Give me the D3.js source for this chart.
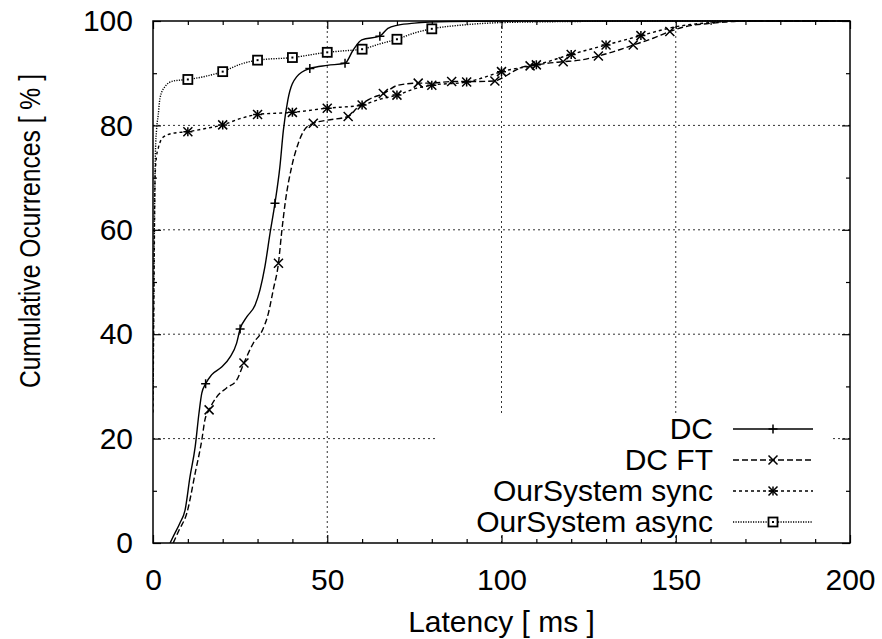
<!DOCTYPE html>
<html>
<head>
<meta charset="utf-8">
<script src="https://cdn.jsdelivr.net/npm/d3@7"></script>
<style>
  body { margin: 0; background: #fff; }
  svg text { font-family: "Liberation Sans", Helvetica, Arial, sans-serif; fill: #000; }
</style>
</head>
<body>
<div class="chart-container"></div>
<script>
// series: latency (ms) and cumulative %
const dcX = [4.9, 6.0, 7.7, 9.2, 10.6, 12.1, 13.2, 14.0, 15.1, 16.8, 19.7, 22.1, 24.0, 25.0, 26.9, 29.3, 30.7, 32.1, 33.6, 35.0, 36.4, 37.4, 38.7, 41.2, 45.0, 50, 55.1, 57.4, 59.9, 65.1, 67.4, 70.3, 75, 85, 100, 200];
const dcY = [0, 1.5, 3.8, 6.3, 12.6, 18.4, 24.9, 28.7, 30.5, 32.2, 33.7, 35.6, 38.3, 41.0, 43.3, 45.6, 48.5, 52.9, 59.4, 65.1, 72, 79, 84.9, 89.3, 90.9, 91.5, 91.9, 94.4, 96.4, 97.1, 98.6, 99.2, 99.6, 99.9, 100, 100];
const dcMarkX = [15.1, 25, 35, 45, 55.1, 65.1];
const dcMarkY = [30.5, 41, 65.1, 90.9, 91.9, 97.1];

const ftX = [5.8, 7.5, 9.7, 12.1, 14.0, 14.9, 16.1, 18.3, 21.1, 24.0, 26.1, 28.8, 31.2, 33.1, 34.5, 36.0, 36.9, 38.0, 39.8, 41.7, 43.5, 46.0, 50, 56.0, 58.5, 62, 66.1, 70.3, 76.1, 80, 85.7, 92, 98.1, 100, 103.3, 106.2, 108.2, 113, 117.7, 122.5, 127.8, 132, 137.8, 143.5, 148.3, 152, 160.7, 170, 200];
const ftY = [0, 2.5, 5.7, 13.4, 19.7, 23.6, 25.5, 28, 29.7, 31.2, 34.5, 38.3, 40.5, 44, 48.5, 53.6, 59.4, 65.5, 72.1, 76.6, 79.2, 80.4, 81, 81.7, 83.3, 85, 86.1, 87.7, 88.1, 88.1, 88.4, 88.4, 88.5, 89, 90.3, 91.2, 91.4, 91.9, 92.2, 92.5, 93.3, 94.1, 95.4, 96.7, 98, 98.8, 99.6, 100, 100];
const ftMarkX = [16.1, 26.1, 36, 46, 56, 66.1, 76.1, 85.7, 98.1, 108.2, 117.7, 127.8, 137.8, 148.3];
const ftMarkY = [25.5, 34.5, 53.6, 80.4, 81.7, 86.1, 88.1, 88.4, 88.5, 91.4, 92.2, 93.3, 95.4, 98];

const syncX = [0, 0.3, 0.6, 1.0, 1.5, 3.0, 5.8, 10, 15, 20, 25, 30, 40, 50, 60, 65, 70, 75, 80, 90, 95, 100, 110, 120, 130, 140, 150, 160, 170, 200];
const syncY = [25, 50, 70, 74, 75.6, 77.8, 78.5, 78.8, 79.4, 80.1, 81.3, 82.1, 82.5, 83.3, 83.9, 85, 85.8, 87, 87.7, 88.3, 89.2, 90.3, 91.6, 93.6, 95.4, 97.2, 98.9, 99.7, 100, 100];
const syncMarkX = [10, 20, 30, 40, 50, 60, 70, 80, 90, 100, 110, 120, 130, 140];
const syncMarkY = [78.8, 80.1, 82.1, 82.5, 83.3, 83.9, 85.8, 87.7, 88.3, 90.3, 91.6, 93.6, 95.4, 97.2];

const asyncX = [0, 0.3, 0.7, 1.0, 1.5, 2.0, 3.4, 5.8, 10, 15, 20, 25, 30, 40, 50, 55, 60, 65, 70, 75, 80, 90, 100, 120, 150, 200];
const asyncY = [28, 55, 75, 79, 82, 85.2, 87.4, 88.5, 88.8, 89.4, 90.3, 91.7, 92.5, 93, 94, 94.3, 94.6, 95.6, 96.5, 97.7, 98.5, 99.3, 99.7, 99.9, 100, 100];
const asyncMarkX = [10, 20, 30, 40, 50, 60, 70, 80];
const asyncMarkY = [88.8, 90.3, 92.5, 93, 94, 94.6, 96.5, 98.5];

const seriesNames = ["DC", "DC FT", "OurSystem sync", "OurSystem async"];
const xTicks = [0, 50, 100, 150, 200];
const yTicks = [0, 20, 40, 60, 80, 100];

// canvas
const w = 882;
const h = 639;
const padLeft = 153, padRight = 850, padTop = 21, padBottom = 543;

const svg = d3
  .select(".chart-container")
  .append("svg")
  .attr("width", w)
  .attr("height", h);

const xScale = d3.scaleLinear().domain([0, 200]).range([padLeft, padRight]);
const yScale = d3.scaleLinear().domain([0, 100]).range([padBottom, padTop]);

// grid
const grid = svg.append("g").attr("stroke", "#333").attr("stroke-width", 1).attr("stroke-dasharray", "2,3");
xTicks.slice(1, -1).forEach((v) => {
  grid.append("line")
    .attr("x1", xScale(v)).attr("x2", xScale(v))
    .attr("y1", padTop).attr("y2", padBottom);
});
yTicks.slice(1, -1).forEach((v) => {
  grid.append("line")
    .attr("x1", padLeft).attr("x2", padRight)
    .attr("y1", yScale(v)).attr("y2", yScale(v));
});

// opaque key box hides the grid behind it
svg.append("rect")
  .attr("x", 437).attr("y", 413)
  .attr("width", 396).attr("height", 123)
  .attr("fill", "#fff");

// axes: major ticks inward, minor every 10
const minorX = d3.range(0, 201, 10).filter((v) => v % 50 !== 0);
const minorY = d3.range(0, 101, 10).filter((v) => v % 20 !== 0);

function drawAxis(axis, tx, ty) {
  const g = svg.append("g").attr("transform", "translate(" + tx + "," + ty + ")").call(axis);
  g.select(".domain").remove();
  g.selectAll("line").attr("stroke", "#000").attr("stroke-width", 1.2);
  return g;
}

const xAxis = drawAxis(d3.axisBottom(xScale).tickValues(xTicks).tickSize(-8).tickPadding(26).tickFormat(d3.format("d")), 0, padBottom);
drawAxis(d3.axisBottom(xScale).tickValues(minorX).tickSize(-4).tickFormat(""), 0, padBottom);
drawAxis(d3.axisTop(xScale).tickValues(xTicks).tickSize(-8).tickFormat(""), 0, padTop);
drawAxis(d3.axisTop(xScale).tickValues(minorX).tickSize(-4).tickFormat(""), 0, padTop);

const yAxis = drawAxis(d3.axisLeft(yScale).tickValues(yTicks).tickSize(-8).tickPadding(20).tickFormat(d3.format("d")), padLeft, 0);
drawAxis(d3.axisLeft(yScale).tickValues(minorY).tickSize(-4).tickFormat(""), padLeft, 0);
drawAxis(d3.axisRight(yScale).tickValues(yTicks).tickSize(-8).tickFormat(""), padRight, 0);
drawAxis(d3.axisRight(yScale).tickValues(minorY).tickSize(-4).tickFormat(""), padRight, 0);

xAxis.attr("font-size", 30).attr("font-family", null);
yAxis.attr("font-size", 30).attr("font-family", null);

// line styles and markers
const styles = [
  { dash: null, marker: "plus" },
  { dash: "6,3", marker: "cross" },
  { dash: "3,3", marker: "star" },
  { dash: "1.2,1.3", marker: "box" },
];

function marker(g, type, cx, cy) {
  const s = 4.5;
  const m = g.append("g").attr("transform", "translate(" + cx + "," + cy + ")")
    .attr("stroke", "#000").attr("fill", "none").attr("stroke-width", 1.5);
  if (type === "plus" || type === "star") {
    m.append("path").attr("d", "M" + -s + ",0H" + s + "M0," + -s + "V" + s);
  }
  if (type === "cross" || type === "star") {
    m.append("path").attr("d", "M" + -s + "," + -s + "L" + s + "," + s + "M" + -s + "," + s + "L" + s + "," + -s);
  }
  if (type === "box") {
    m.append("rect").attr("x", -s).attr("y", -s).attr("width", 2 * s).attr("height", 2 * s)
      .attr("fill", "#fff").attr("stroke-width", 1.8);
    m.append("rect").attr("x", -1).attr("y", -1).attr("width", 2).attr("height", 2).attr("fill", "#000").attr("stroke", "none");
  }
}

const series = [
  [dcX, dcY, dcMarkX, dcMarkY],
  [ftX, ftY, ftMarkX, ftMarkY],
  [syncX, syncY, syncMarkX, syncMarkY],
  [asyncX, asyncY, asyncMarkX, asyncMarkY],
];

const line = d3.line()
  .x((d) => xScale(d[0]))
  .y((d) => yScale(d[1]))
  .curve(d3.curveMonotoneX);

svg.append("clipPath").attr("id", "plot-clip")
  .append("rect").attr("x", padLeft).attr("y", padTop - 1).attr("width", padRight - padLeft).attr("height", padBottom - padTop + 1);

const plot = svg.append("g").attr("clip-path", "url(#plot-clip)");

// draw back to front so DC ends up on top
for (let i = series.length - 1; i >= 0; i--) {
  const [xs, ys, mx, my] = series[i];
  plot.append("path")
    .datum(xs.map((x, j) => [x, ys[j]]))
    .attr("fill", "none")
    .attr("stroke", "#000")
    .attr("stroke-width", 1.4)
    .attr("stroke-dasharray", styles[i].dash)
    .attr("d", line);
  mx.forEach((x, j) => marker(plot, styles[i].marker, xScale(x), yScale(my[j])));
}

// frame
svg.append("rect")
  .attr("x", padLeft).attr("y", padTop)
  .attr("width", padRight - padLeft).attr("height", padBottom - padTop)
  .attr("fill", "none").attr("stroke", "#000").attr("stroke-width", 1.5);

// key
const key = svg.append("g");
seriesNames.forEach((name, i) => {
  const ly = 429 + i * 31;
  key.append("text")
    .attr("x", 713).attr("y", ly + 10)
    .attr("text-anchor", "end")
    .attr("font-size", 30)
    .text(name);
  key.append("line")
    .attr("x1", 733).attr("x2", 813)
    .attr("y1", ly).attr("y2", ly)
    .attr("stroke", "#000").attr("stroke-width", 1.4)
    .attr("stroke-dasharray", styles[i].dash);
  marker(key, styles[i].marker, 773, ly);
});

// axis labels
svg.append("text")
  .attr("x", (padLeft + padRight) / 2).attr("y", 632)
  .attr("text-anchor", "middle")
  .attr("font-size", 30)
  .text("Latency [ ms ]");

svg.append("text")
  .attr("transform", "translate(40,231) rotate(-90)")
  .attr("text-anchor", "middle")
  .attr("font-size", 30)
  .attr("textLength", 314)
  .attr("lengthAdjust", "spacingAndGlyphs")
  .text("Cumulative Ocurrences [ % ]");
</script>
</body>
</html>
